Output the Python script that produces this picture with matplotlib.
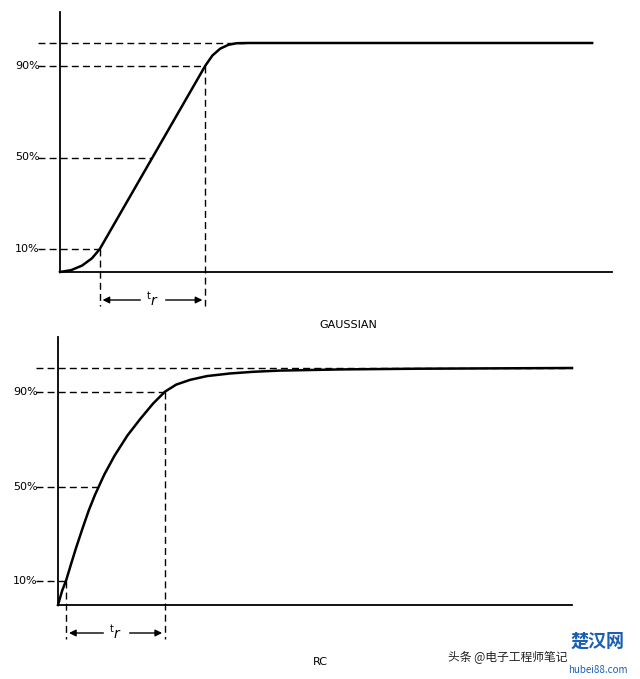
import matplotlib
matplotlib.use("Agg")
import matplotlib.pyplot as plt
import numpy as np
plt.rcParams['font.family'] = ['Noto Sans CJK SC', 'DejaVu Sans']

levels = [10, 50, 90]
level_labels = ["10%", "50%", "90%"]
g_t = [0, 2, 4, 5.8, 7.2, 26.3, 27.6, 29.0, 30.5, 32.0, 34.0, 96.4]
g_v = [0, 0.8, 2.8, 6, 10, 90, 94.5, 97.5, 99.2, 99.9, 100, 100]
g_tr = (7.2, 26.3)
rc_t = [0, 0.8, 1.6, 2.5, 3.5, 4.8, 6, 7.2, 9, 11, 13.5, 16, 18.5, 20.8, 23,
        25.7, 29, 33.5, 38, 43, 55, 70, 100]
rc_v = [0, 6, 10.5, 17, 24, 32.5, 40, 46.5, 55, 63, 71.5, 78.5, 85, 90, 93,
        95, 96.6, 97.7, 98.4, 98.9, 99.4, 99.7, 100]
rc_tr = (1.6, 20.8)

W, H = 640, 679
fig = plt.figure(figsize=(W/100, H/100), dpi=100)
fig.patch.set_facecolor('white')

def panel(left, right, bottom, top, t, v, tr, title, title_y, dash_end):
    ax = fig.add_axes([left/W, 1-bottom/H, (right-left)/W, (bottom-top)/H])
    ax.set_xlim(0, 100); ax.set_ylim(0, 100); ax.axis('off')
    pxx = 100/(right-left); pxy = 100/(bottom-top)
    kw = dict(color='black', clip_on=False)
    ax.plot([0, 0], [0, 100 + 31*pxy], lw=1.3, **kw)
    ax.plot([0, 100], [0, 0], lw=1.3, **kw)
    x0 = -22*pxx
    ax.plot([x0, dash_end], [100, 100], lw=1.0, ls=(0, (5, 3)), **kw)
    for lv, lab in zip(levels, level_labels):
        tc = float(np.interp(lv, v, t))
        ax.plot([x0, tc], [lv, lv], lw=1.0, ls=(0, (5, 3)), **kw)
        ax.text(x0 + 1.5*pxx, lv, lab, ha='right', va='center', fontsize=8,
                family='DejaVu Sans')
    ax.plot(t, v, lw=1.8, solid_joinstyle='round', **kw)
    ya = -28*pxy
    for tt, lv in zip(tr, (10, 90)):
        ax.plot([tt, tt], [lv, -34*pxy], lw=1.0, ls=(0, (5, 3)), **kw)
    ax.annotate('', xy=(tr[0], ya), xytext=(tr[1], ya),
                arrowprops=dict(arrowstyle='<|-|>', color='black', lw=1.0,
                                mutation_scale=10), annotation_clip=False)
    mid = (tr[0]+tr[1])/2
    ax.text(mid, ya, r'$^{\mathsf{t}}r$', ha='center', va='center', fontsize=10,
            backgroundcolor='white')
    fig.text(title[1]/W, 1-title_y/H, title[0], ha='center', va='center',
             fontsize=8, family='DejaVu Sans')

panel(60, 612, 272, 43, g_t, g_v, g_tr, ("GAUSSIAN", 348), 325, 34)
panel(58, 572, 605, 368, rc_t, rc_v, rc_tr, ("RC", 320), 662, 100)

fig.text(448/W, 1-657/H, "头条 @电子工程师笔记", fontsize=8.5, va='center', color='#222222')
fig.text(598/W, 1-641/H, "楚汉网", fontsize=13, va='center', ha='center', color='#1a5fb4', weight='bold')
fig.text(598/W, 1-670/H, "hubei88.com", fontsize=7, va='center', ha='center', color='#1a5fb4')

fig.savefig("out.png", dpi=100, facecolor='white')
